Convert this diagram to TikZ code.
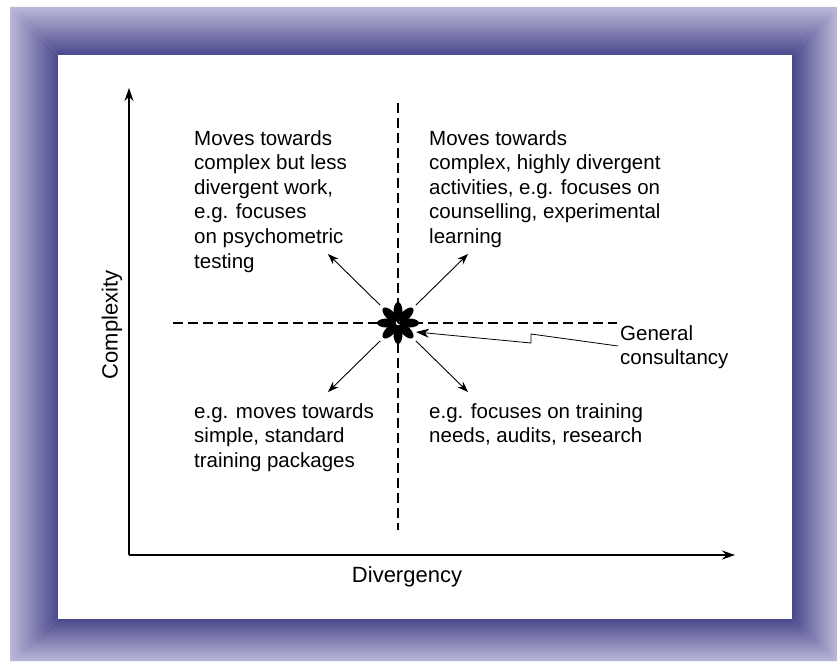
\documentclass[tikz,border=0pt]{standalone}
\usepackage{fontspec}
\setmainfont{Liberation Sans}
\usetikzlibrary{arrows.meta}
\definecolor{frameDark}{RGB}{74,72,140}
\definecolor{frameLight}{RGB}{186,184,216}
\begin{document}
\begin{tikzpicture}[x=1pt,y=-1pt,
  txt/.style={font=\fontsize{20.5}{24.6}\selectfont, align=left, anchor=base west, inner sep=0pt},
  lbl/.style={font=\fontsize{22}{26}\selectfont, inner sep=0pt},
  dashline/.style={line width=2.2pt, dash pattern=on 10pt off 5pt},
  axis/.style={line width=1.2pt, -{Stealth[length=13pt,width=9pt]}},
  move/.style={line width=0.9pt, -{Stealth[length=11pt,width=8pt]}},
  callout/.style={line width=0.8pt, -{Stealth[length=13pt,width=9pt,inset=4pt]}},
]
\useasboundingbox (0,0) rectangle (837,661);
% bevelled frame
\begin{scope}
  \clip (10,7) -- (837,7) -- (792,55) -- (58,55) -- cycle;
  \shade[top color=frameLight, bottom color=frameDark] (10,7) rectangle (837,55);
\end{scope}
\begin{scope}
  \clip (10,661) -- (837,661) -- (792,619) -- (58,619) -- cycle;
  \shade[top color=frameDark, bottom color=frameLight] (10,619) rectangle (837,661);
\end{scope}
\begin{scope}
  \clip (10,7) -- (58,55) -- (58,619) -- (10,661) -- cycle;
  \shade[left color=frameLight, right color=frameDark] (10,7) rectangle (58,661);
\end{scope}
\begin{scope}
  \clip (837,7) -- (792,55) -- (792,619) -- (837,661) -- cycle;
  \shade[left color=frameDark, right color=frameLight] (792,7) rectangle (837,661);
\end{scope}

% coordinates
\coordinate (origin) at (129,555);
\coordinate (ytop) at (129,88);
\coordinate (xend) at (735,555);
\coordinate (vtop) at (398,103);
\coordinate (vbot) at (398,530);
\coordinate (hleft) at (173,323);
\coordinate (hright) at (617,323);
\node[circle, minimum size=50pt, inner sep=0pt] (hub) at (398,323) {};
\coordinate (nw) at (328,254);
\coordinate (ne) at (468,254);
\coordinate (sw) at (328,392);
\coordinate (se) at (468,392);
\coordinate (cstart) at (618,346);
\coordinate (k2) at (531,334);
\coordinate (k1) at (531,343);
\coordinate (ctip) at (416,332);

% axes
\draw[axis] (origin) -- (ytop);
\draw[axis] (origin) -- (xend);
% dashed quadrant lines
\draw[dashline] (vtop) -- (vbot);
\draw[dashline] (hleft) -- (hright);
% star
\foreach \a in {0,45,...,315}
  \fill[shift={(hub.center)}, rotate=\a] (11.5,0) ellipse [x radius=9.5pt, y radius=4.5pt];
% arrows
\draw[move] (hub.135) -- (nw);
\draw[move] (hub.45) -- (ne);
\draw[move] (hub.225) -- (sw);
\draw[move] (hub.315) -- (se);
\draw[callout] (cstart) -- (k2) -- (k1) -- (ctip);

% texts (anchored at the baseline of the last line)
\node[txt] (tl) at (194,268) {Moves towards\\complex but less\\divergent work,\\e.g. focuses\\on psychometric\\testing};
\node[txt] (tr) at (429,243.4) {Moves towards\\complex, highly divergent\\activities, e.g. focuses on\\counselling, experimental\\learning};
\node[txt] (bl) at (194,467.2) {e.g. moves towards\\simple, standard\\training packages};
\node[txt] (br) at (429,442.6) {e.g. focuses on training\\needs, audits, research};
\node[txt] (gc) at (620,364.6) {General\\consultancy};
\node[lbl, rotate=90] (ylab) at (112,325) {Complexity};
\node[lbl] (xlab) at (407,577) {Divergency};
\end{tikzpicture}
\end{document}
